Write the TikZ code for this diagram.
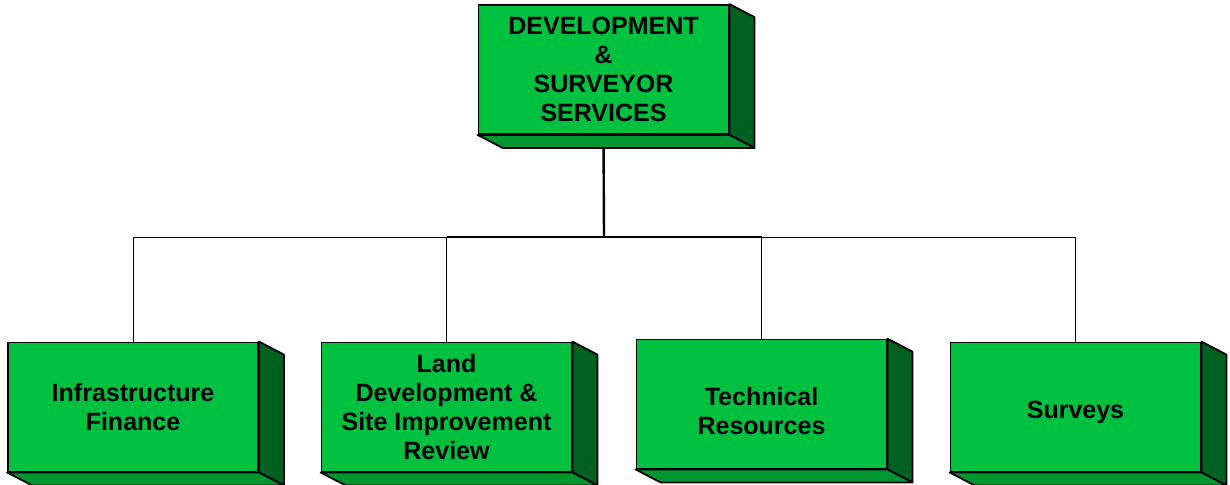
\documentclass[tikz,border=0pt]{standalone}
\usepackage{fontspec}
\setmainfont{Liberation Sans}
\usepackage{tikz}
\usetikzlibrary{calc,backgrounds}
\tikzset{>=latex}
\definecolor{FrontGreen}{RGB}{0,192,64}
\definecolor{SideGreen}{RGB}{0,96,32}
\definecolor{BaseGreen}{RGB}{0,150,48}
\tikzset{
  unitbox/.style={draw,line width=0.9pt,fill=FrontGreen,minimum width=125pt,minimum height=64.5pt,
    inner sep=0pt,align=center,font=\fontsize{12.5}{14.5}\selectfont\bfseries},
  facebox/.style={draw,line width=0.9pt,line join=round},
  link/.style={line width=0.5pt},
  trunk/.style={line width=1.2pt}
}

\begin{document}
\begin{tikzpicture}[x=0.5pt,y=-0.5pt]
          \useasboundingbox (0,0) rectangle (1230,484);
          \node[unitbox] (dss) at (603.5,69.5) {DEVELOPMENT\\\&\\SURVEYOR\\SERVICES};
          \node[unitbox] (infra) at (133,407) {Infrastructure\\Finance};
          \node[unitbox] (land) at (446.5,407) {Land\\Development \&\\Site Improvement\\Review};
          \node[unitbox] (tech) at (761.5,404) {\rule{0pt}{16pt}Technical\\Resources};
          \node[unitbox] (surv) at (1075.5,407) {\rule{0pt}{14pt}Surveys};
          \coordinate (bus) at (604,237);
          \begin{scope}[on background layer]
            \draw[trunk] (dss.south) -- (bus);
            \draw[trunk] (land.north |- bus) -- (tech.north |- bus);
            \draw[link] (infra.north) |- (bus) -| (surv.north);
            \draw[link] (land.north) -- (land.north |- bus);
            \draw[link] (tech.north) -- (tech.north |- bus);
            % side and base faces of each block
            \foreach \n in {dss,infra,land,tech,surv}{
              \draw[facebox,fill=SideGreen] (\n.north east) -- ++(25,13) -- ($(\n.south east)+(25,13)$) -- (\n.south east) -- cycle;
              \draw[facebox,fill=BaseGreen] (\n.south west) -- (\n.south east) -- ++(25,13) -- ($(\n.south west)+(25,13)$) -- cycle;
            }
          \end{scope}
    \end{tikzpicture}
\end{document}
